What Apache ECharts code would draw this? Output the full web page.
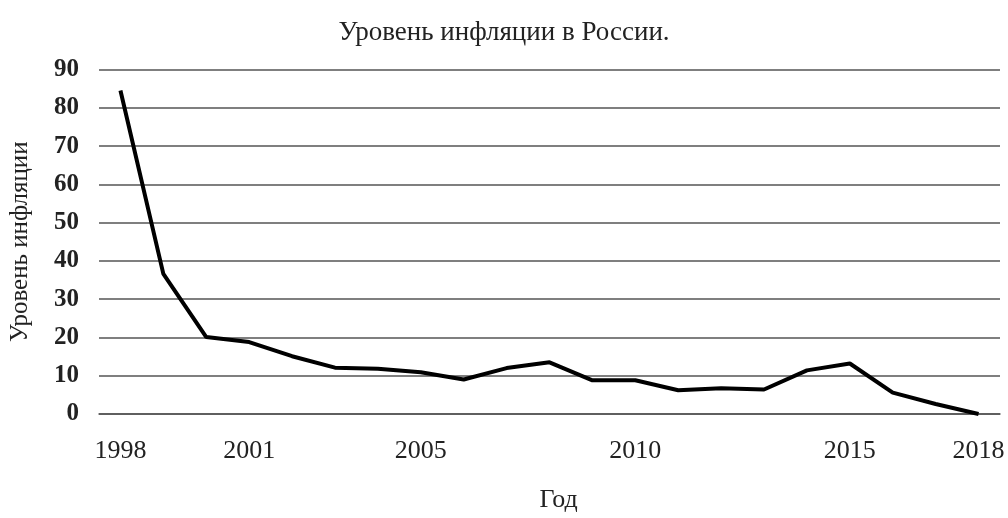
<!DOCTYPE html>
<html>
<head>
<meta charset="utf-8">
<script src="https://cdn.jsdelivr.net/npm/echarts@6/dist/echarts.min.js"></script>
<style>
  html, body { margin: 0; padding: 0; background: #fff; }
  #chart { width: 1008px; height: 518px; }
</style>
</head>
<body>
<div id="chart"></div>
<script>
// годы
const years = ["1998", "1999", "2000", "2001", "2002", "2003", "2004", "2005", "2006", "2007",
  "2008", "2009", "2010", "2011", "2012", "2013", "2014", "2015", "2016", "2017", "2018"];
// уровень инфляции, %
const inflation = [84.5, 36.6, 20.1, 18.8, 15.1, 12.1, 11.8, 10.9, 9.0, 12.0,
  13.5, 8.8, 8.8, 6.2, 6.7, 6.4, 11.4, 13.2, 5.6, 2.6, 0];
// подписи по оси X
const shownYears = ["1998", "2001", "2005", "2010", "2015", "2018"];

const font = "'Liberation Serif', 'Times New Roman', serif";
const chart = echarts.init(document.getElementById("chart"));

const option = {
  backgroundColor: "#fff",
  animation: false,
  title: {
    text: "Уровень инфляции в России.",
    left: "center",
    top: 14,
    textStyle: { fontFamily: font, fontSize: 27, fontWeight: "normal", color: "#222" },
  },
  grid: { left: 97, right: 8, top: 69.5, bottom: 95 },
  xAxis: {
    type: "category",
    data: years,
    boundaryGap: true,
    name: "Год",
    nameLocation: "middle",
    nameGap: 73,
    nameTextStyle: { fontFamily: font, fontSize: 26, color: "#222", padding: [0, 0, 0, 18] },
    axisLine: { show: true, lineStyle: { color: "#555", width: 1.5 } },
    axisTick: { show: false },
    axisLabel: {
      interval: (idx, val) => shownYears.includes(val),
      margin: 24,
      fontFamily: font,
      fontSize: 26,
      color: "#222",
    },
  },
  yAxis: {
    type: "value",
    min: 0,
    max: 90,
    interval: 10,
    name: "Уровень инфляции",
    nameLocation: "middle",
    nameGap: 66,
    nameTextStyle: { fontFamily: font, fontSize: 25, color: "#222" },
    axisLine: { show: false },
    axisTick: { show: false },
    axisLabel: { margin: 20, fontFamily: font, fontSize: 25, fontWeight: "bold", color: "#222" },
    splitLine: { lineStyle: { color: "#555", width: 1.5 } },
  },
  series: [
    {
      type: "line",
      data: inflation,
      showSymbol: false,
      symbol: "none",
      lineStyle: { color: "#000", width: 4 },
    },
  ],
};
chart.setOption(option);
</script>
</body>
</html>
